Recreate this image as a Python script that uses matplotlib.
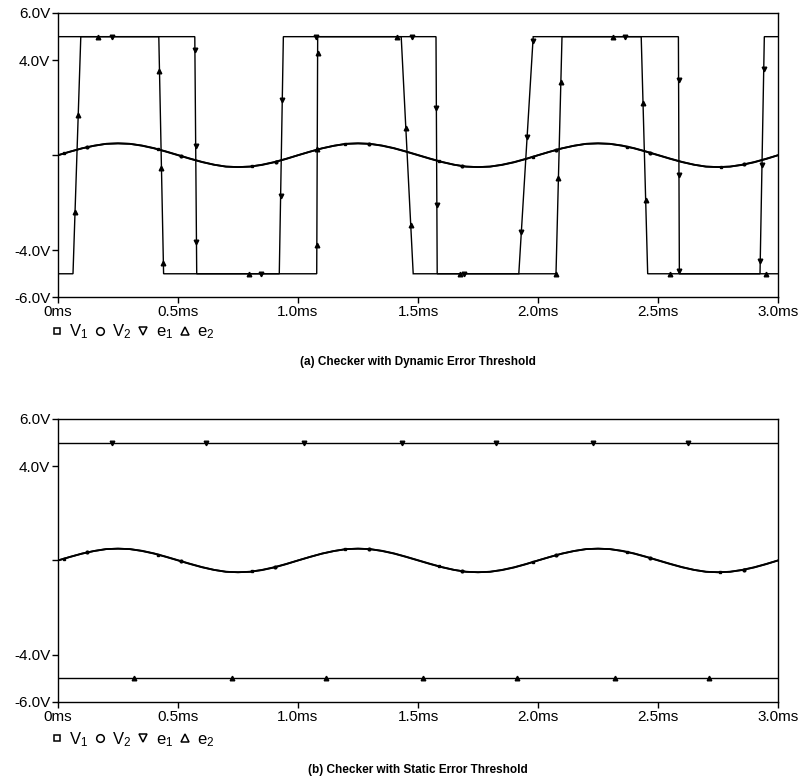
import numpy as np
import matplotlib
matplotlib.use("Agg")
import matplotlib.pyplot as plt
from matplotlib.lines import Line2D

plt.rcParams["font.family"] = ["Liberation Sans", "DejaVu Sans"]

# time axis of the sampled sine (ms)
t_sine = np.arange(0, 3.0001, 0.05)
period = [0.0, 0.15, 0.29, 0.40, 0.48, 0.50, 0.48, 0.40, 0.29, 0.15,
          0.0, -0.15, -0.29, -0.40, -0.48, -0.50, -0.48, -0.40, -0.29, -0.15]
v1 = period * 3 + [0.0]
v2 = [0.0, 0.15, 0.29, 0.40, 0.48, 0.50, 0.48, 0.41, 0.30, 0.16,
      0.01, -0.14, -0.28, -0.40, -0.48, -0.50, -0.48, -0.41, -0.30, -0.16] * 3 + [0.0]

# error thresholds, dynamic checker (breakpoints)
e1_t = [0, 0.57, 0.578, 0.922, 0.939, 1.575, 1.58, 1.92, 1.98, 2.585, 2.589, 2.925, 2.943, 3.0]
e1_v = [5, 5, -5, -5, 5, 5, -5, -5, 5, 5, -5, -5, 5, 5]
e2_t = [0, 0.0625, 0.095, 0.42, 0.44, 1.078, 1.082, 1.43, 1.48, 2.075, 2.10, 2.43, 2.457, 3.0]
e2_v = [-5, -5, 5, 5, -5, -5, 5, 5, -5, -5, 5, 5, -5, -5]

# static checker
e1s_t = [0, 3.0]
e1s_v = [5, 5]
e2s_t = [0, 3.0]
e2s_v = [-5, -5]

yticks = [6, 4, 0, -4, -6]
ylabels = ["6.0V", "4.0V", "", "-4.0V", "-6.0V"]
xticks = [0, 0.5, 1.0, 1.5, 2.0, 2.5, 3.0]
xlabels = ["0ms", "0.5ms", "1.0ms", "1.5ms", "2.0ms", "2.5ms", "3.0ms"]


def dense(t, v, n=200):
    # fine path along the breakpoints, only used to place markers
    ts, vs = [], []
    for i in range(len(t) - 1):
        ts.append(np.linspace(t[i], t[i + 1], n))
        vs.append(np.linspace(v[i], v[i + 1], n))
    return np.concatenate(ts), np.concatenate(vs)


def wave(ax, t, v, marker, start, lw=1.0, ms=3.3):
    ax.plot(t, v, color="black", lw=lw, solid_joinstyle="miter")
    dt, dv = dense(t, v)
    ax.plot(dt, dv, ls="none", marker=marker, ms=ms, color="black",
            markevery=(start, 0.124))


def panel(ax, e1t, e1v, e2t, e2v, title, leg_y, title_y):
    wave(ax, t_sine, v1, "s", 0.008, lw=1.3, ms=2.0)
    wave(ax, t_sine, v2, "o", 0.039, lw=1.3, ms=2.0)
    wave(ax, e1t, e1v, "v", 0.070)
    wave(ax, e2t, e2v, "^", 0.0995)
    ax.set_xlim(0, 3.0)
    ax.set_ylim(-6, 6)
    ax.set_yticks(yticks)
    ax.set_yticklabels(ylabels)
    ax.set_xticks(xticks)
    ax.set_xticklabels(xlabels)
    ax.tick_params(direction="out", length=4, width=1.0, labelsize=11, pad=1.5)
    for s in ax.spines.values():
        s.set_linewidth(1.0)
    handles = [
        Line2D([], [], ls="none", marker="s", ms=5, mfc="none", mec="black", mew=1.1),
        Line2D([], [], ls="none", marker="o", ms=5.5, mfc="none", mec="black", mew=1.1),
        Line2D([], [], ls="none", marker="v", ms=6, mfc="none", mec="black", mew=1.1),
        Line2D([], [], ls="none", marker="^", ms=6, mfc="none", mec="black", mew=1.1),
    ]
    labels = [r"$\mathregular{V_1}$", r"$\mathregular{V_2}$",
              r"$\mathregular{e_1}$", r"$\mathregular{e_2}$"]
    ax.legend(handles, labels, ncol=4, loc="upper left", bbox_to_anchor=(-0.009, leg_y),
              frameon=False, fontsize=12, handlelength=0.6, handletextpad=0.45,
              columnspacing=0.4, borderpad=0, borderaxespad=0)
    ax.text(0.5, title_y, title, transform=ax.transAxes, ha="center", va="center",
            fontsize=8.5, fontweight="bold")


fig = plt.figure(figsize=(8.1, 7.81), dpi=100)
ax1 = fig.add_axes([0.0716, 0.6191, 0.8889, 0.3643])
ax2 = fig.add_axes([0.0716, 0.1012, 0.8889, 0.3624])

panel(ax1, e1_t, e1_v, e2_t, e2_v, "(a) Checker with Dynamic Error Threshold", -0.088, -0.227)
panel(ax2, e1s_t, e1s_v, e2s_t, e2s_v, "(b) Checker with Static Error Threshold", -0.100, -0.240)

fig.savefig("out.png", dpi=100)
